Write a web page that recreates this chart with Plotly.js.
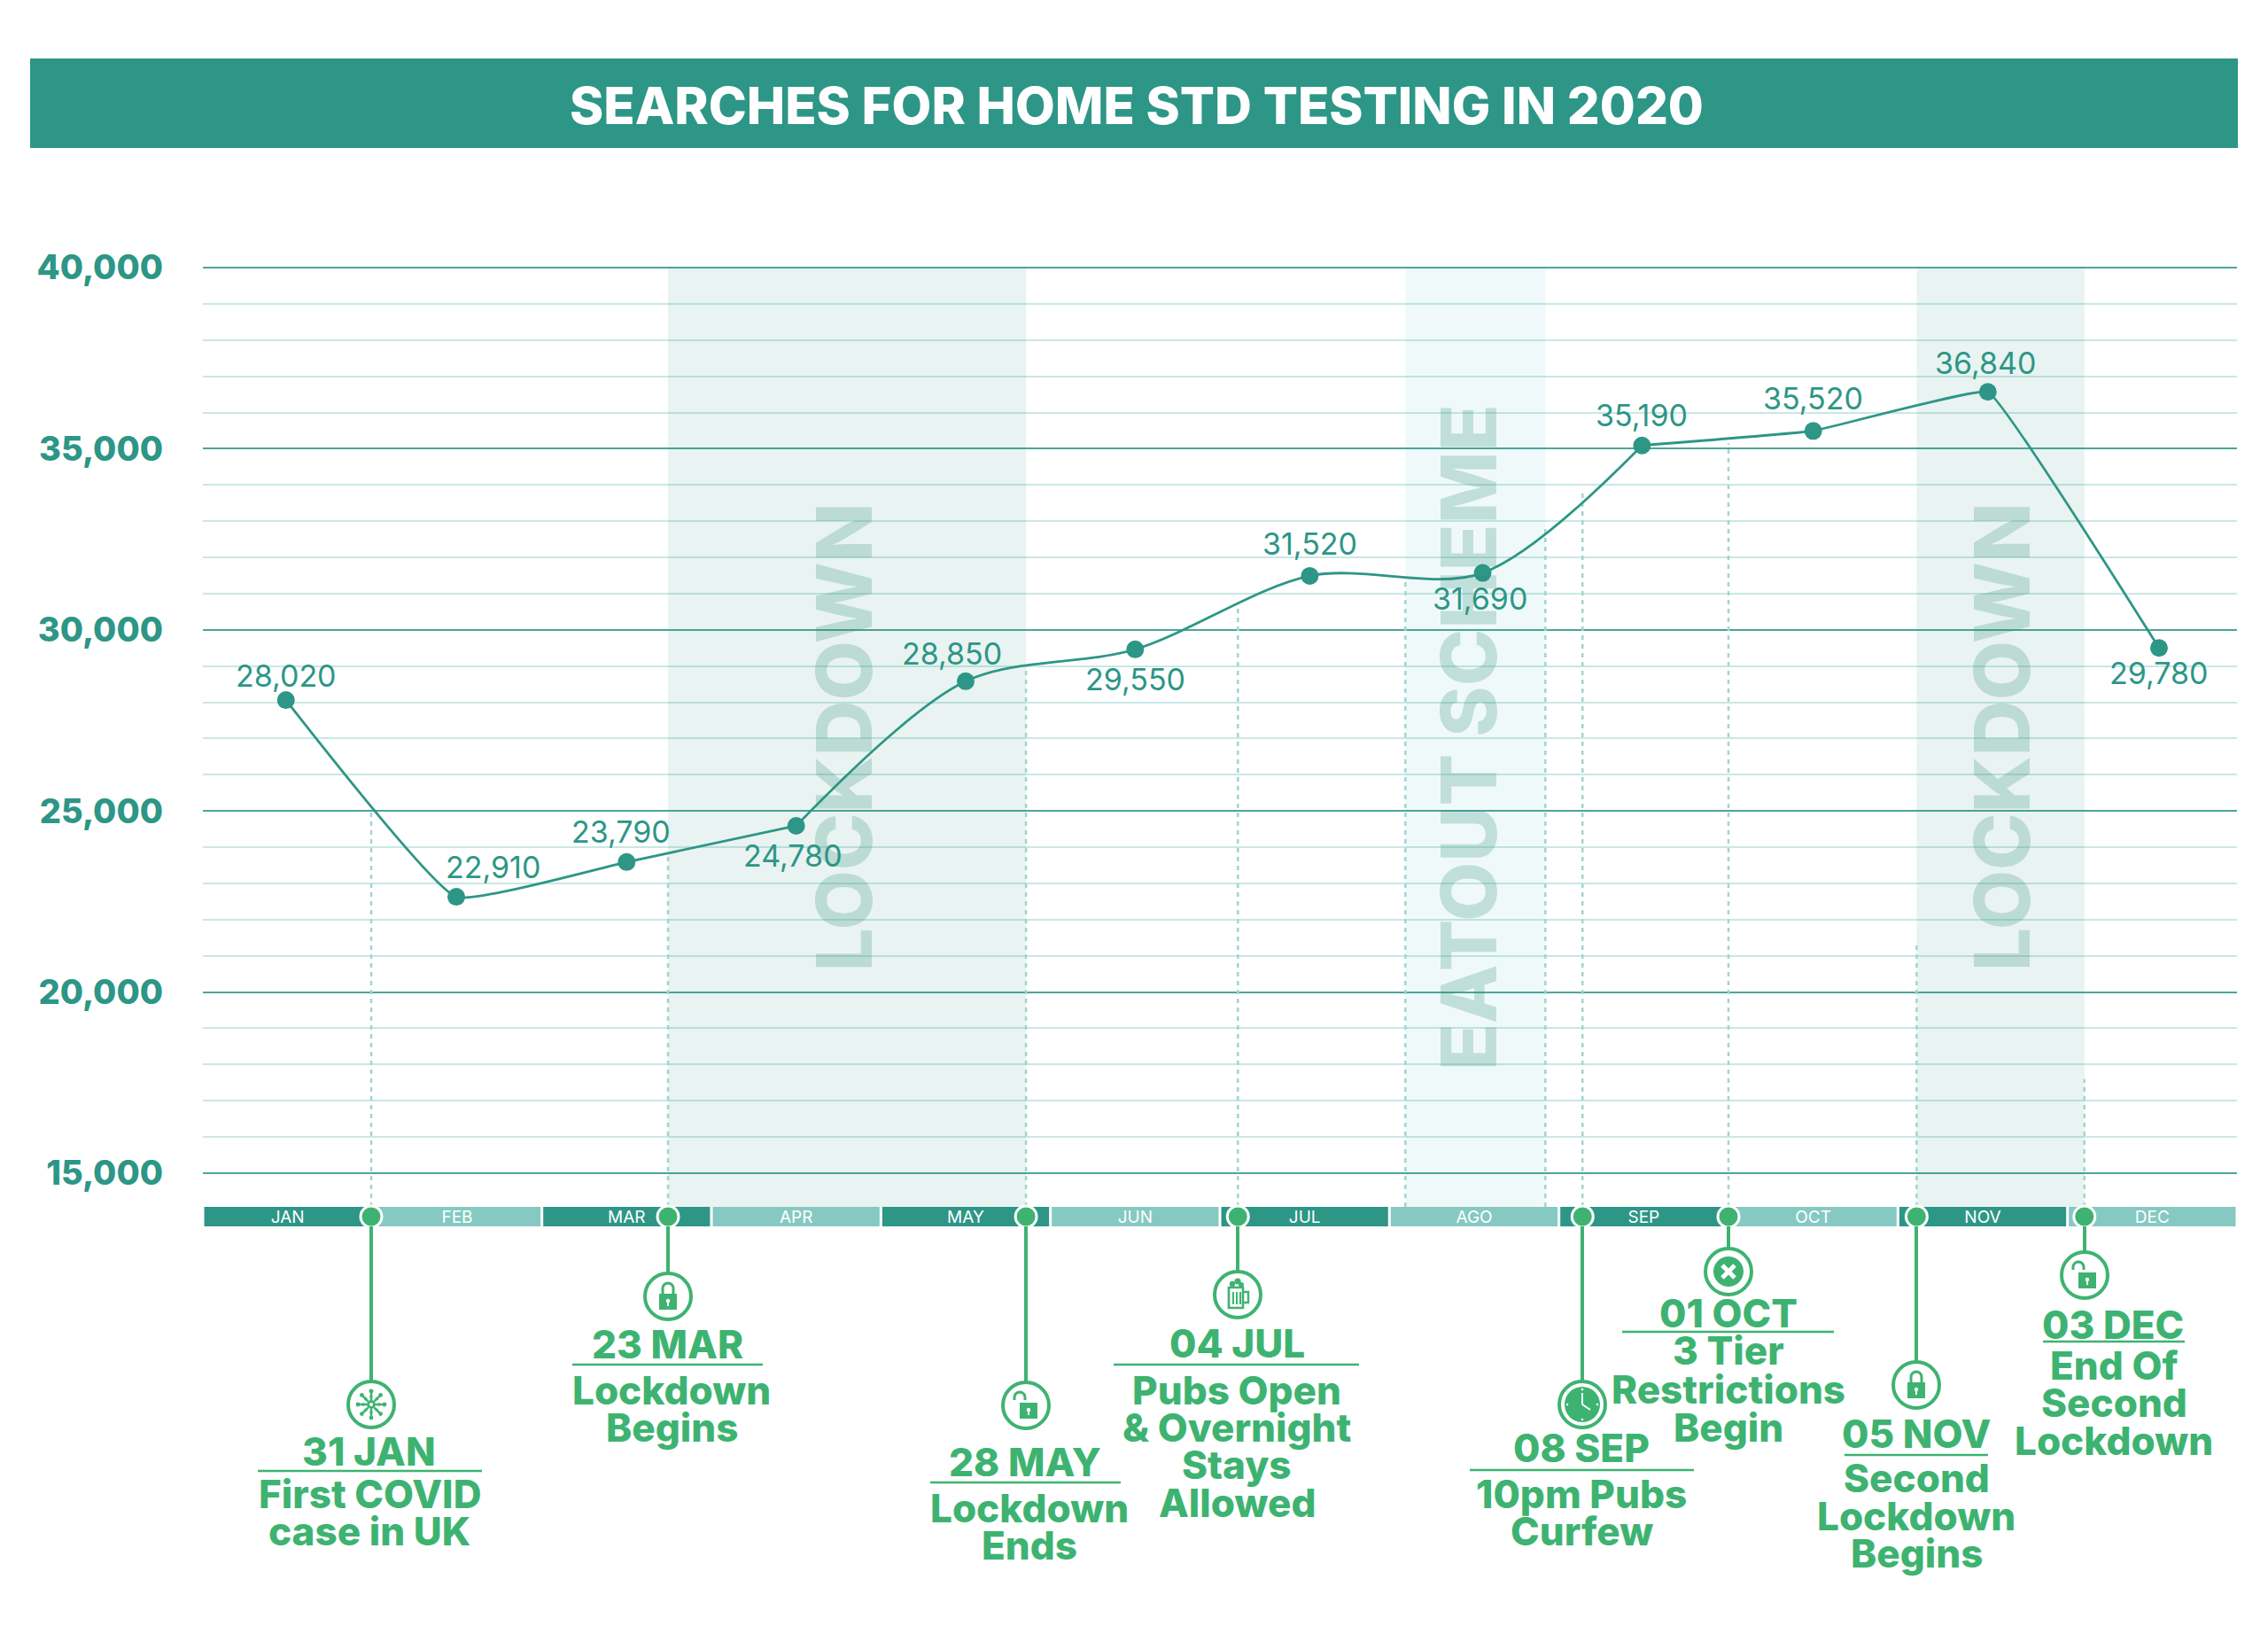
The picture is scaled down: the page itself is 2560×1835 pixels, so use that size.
<!DOCTYPE html>
<html><head><meta charset="utf-8">
<script src="https://cdn.plot.ly/plotly-3.0.1.min.js"></script>
<style>html,body{margin:0;padding:0;background:#fff}</style></head>
<body><div id="chart" style="width:2560px;height:1835px"></div>
<script>
// ---- data ----
const months = ['JAN','FEB','MAR','APR','MAY','JUN','JUL','AGO','SEP','OCT','NOV','DEC'];
const monthPos = [-0.01,0.995,2,3,4,5,6.03,7.05,7.99,9,10.03,11.04];
const plottedValues = [28060,22630,23590,24590,28580,29460,31490,31570,35090,35490,36570,29500];
const valueLabels = ['28,020','22,910','23,790','24,780','28,850','29,550','31,520','31,690','35,190','35,520','36,840','29,780'];
const eventPos = [0.493,2.244,4.356,5.606,7.639,8.50,9.61,10.60];
const eventDates = ['31 JAN','23 MAR','28 MAY','04 JUL','08 SEP','01 OCT','05 NOV','03 DEC'];
const eventLines = [['First COVID','case in UK'],['Lockdown','Begins'],['Lockdown','Ends'],
  ['Pubs Open','& Overnight','Stays','Allowed'],['10pm Pubs','Curfew'],['3 Tier','Restrictions','Begin'],
  ['Second','Lockdown','Begins'],['End Of','Second','Lockdown']];
const eventGuideTop = [25000,23800,29000,30600,33760,35150,21400,17600];
const bands = [{from:2.244,to:4.356,label:'LOCKDOWN',labelAt:3.28,size:87,fill:'rgba(45,141,122,0.105)'},
               {from:6.594,to:7.42,label:'EATOUT SCHEME',labelAt:6.965,size:87,fill:'rgba(41,169,169,0.07)'},
               {from:9.61,to:10.60,label:'LOCKDOWN',labelAt:10.11,size:87,fill:'rgba(45,141,122,0.105)'}];
const bandEdgeTops = [[6.594,31320],[7.42,32800]];
const majorTicks = [15000,20000,25000,30000,35000,40000];
const minorTicks = [16000,17000,18000,19000,21000,22000,23000,24000,26000,27000,28000,29000,31000,32000,33000,34000,36000,37000,38000,39000];

// ---- layout constants (pixels) ----
const W=2560,H=1835,L=229,R=2525,T=300,B=1384;
const TEAL='#2d9686',LIGHT='#85c9c2',GREEN='#3eb371',DOT='#9fd6d0';
const FONT='Inter';
const px=x=>(x-L)/(R-L), py=y=>1-(y-T)/(B-T);
const barTopVal=14070, barBotVal=13532, barMidVal=13800, rangeTop=40049;
const labelOff=[[0,-28],[41,-34],[-6,-34],[-4,34],[-16,-31],[0,34],[0,-36],[-3,29],[0,-34],[0,-37],[-3,-33],[0,28]];
const evt=[
 {x:419,cy:1585,dy:1638,dx:416,ul:[291,544,1660],tx:417,by:[1686,1728],icon:'virus'},
 {x:754,cy:1463,dy:1517,dx:753,ul:[646,861,1540],tx:758,by:[1569,1611],icon:'lock'},
 {x:1158,cy:1586,dy:1650,dx:1157,ul:[1050,1265,1673],tx:1162,by:[1702,1744],icon:'open'},
 {x:1397,cy:1461,dy:1516,dx:1396,ul:[1257,1534,1540],tx:1396,by:[1569,1611,1653,1696],icon:'beer'},
 {x:1786,cy:1585,dy:1634,dx:1785,ul:[1659,1912,1659],tx:1785,by:[1686,1728],icon:'clock'},
 {x:1951,cy:1435,dy:1482,dx:1951,ul:[1831,2070,1503],tx:1951,by:[1524,1568,1611],icon:'x'},
 {x:2163,cy:1563,dy:1618,dx:2163,ul:[2082,2244,1642],tx:2163,by:[1668,1711,1753],icon:'lock'},
 {x:2353,cy:1439,dy:1495,dx:2385,ul:[2306,2466,1514],tx:2386,by:[1541,1583,1626],icon:'open'}];

// ---- helpers for pixel-drawn decoration ----
const P=(x,y)=>px(x).toFixed(5)+','+py(y).toFixed(5);
const poly=(pts,close=true)=>'M'+pts.map(p=>P(p[0],p[1])).join('L')+(close?'Z':'');
const arc=(cx,cy,r,a0,a1,n=24)=>{const o=[];for(let i=0;i<=n;i++){const a=(a0+(a1-a0)*i/n)*Math.PI/180;o.push([cx+r*Math.cos(a),cy+r*Math.sin(a)]);}return o;};
const shapes=[];
const pfill=(d,c=GREEN)=>shapes.push({type:'path',xref:'paper',yref:'paper',path:d,fillcolor:c,line:{width:0},layer:'above'});
const pline=(d,c=GREEN,w=3)=>shapes.push({type:'path',xref:'paper',yref:'paper',path:d,line:{color:c,width:w},layer:'above'});
const circ=(x,y,r,fill,lc,lw)=>shapes.push({type:'circle',xref:'paper',yref:'paper',x0:px(x-r),x1:px(x+r),y0:py(y+r),y1:py(y-r),fillcolor:fill,line:{color:lc,width:lw},layer:'above'});
const seg=(x0,y0,x1,y1,c=GREEN,w=3)=>shapes.push({type:'line',xref:'paper',yref:'paper',x0:px(x0),x1:px(x1),y0:py(y0),y1:py(y1),line:{color:c,width:w},layer:'above'});
function lock(x,y,open){
  const bx=open?x+3:x;
  pfill(poly([[bx-10,y-3],[bx+10,y-3],[bx+10,y+15],[bx-10,y+15]]));
  const sx=open?x-7:x;
  pline(poly([[sx-6,open?y-6:y-3],...arc(sx,y-9,6,180,360,12),[sx+6,open?y-6:y-3]],false),GREEN,3);
  circ(bx,y+5,2.2,'#fff','#fff',0);
  pfill(poly([[bx-1,y+5],[bx+1,y+5],[bx+1,y+11],[bx-1,y+11]]),'#fff');
}
const icons={
 lock:(x,y)=>lock(x,y,false),
 open:(x,y)=>lock(x,y,true),
 virus:(x,y)=>{for(let a=0;a<360;a+=45){const r=a*Math.PI/180,c=Math.cos(r),s=Math.sin(r);
    seg(x+5*c,y+5*s,x+15*c,y+15*s,GREEN,2.5);circ(x+15*c,y+15*s,2.4,GREEN,GREEN,0);circ(x+9*c,y+9*s,1.8,GREEN,GREEN,0);}
    circ(x,y,5,GREEN,GREEN,0);circ(x,y,2,'#fff','#fff',0);},
 beer:(x,y)=>{pline(poly([[x-10,y-8],[x+6,y-8],[x+6,y+15],[x-10,y+15]]),GREEN,2.6);
    seg(x-5,y-3,x-5,y+11,GREEN,2);seg(x-1,y-3,x-1,y+11,GREEN,2);seg(x+3,y-3,x+3,y+11,GREEN,2);
    pline(poly([[x+6,y-3],[x+12,y-3],[x+12,y+9],[x+6,y+9]],false),GREEN,2.4);
    circ(x-6,y-12,3.2,GREEN,GREEN,0);circ(x,y-15,3.6,GREEN,GREEN,0);circ(x+4,y-11,3,GREEN,GREEN,0);},
 clock:(x,y)=>{circ(x,y,20,GREEN,GREEN,0);seg(x,y,x,y-13,'#fff',2);seg(x,y,x+9,y+6,'#fff',2);
    for(const [a,b] of [[0,-17],[0,17],[-17,0],[17,0]])circ(x+a,y+b,1.3,'#fff','#fff',0);},
 x:(x,y)=>{circ(x,y,17,GREEN,GREEN,0);seg(x-7,y-7,x+7,y+7,'#fff',5);seg(x-7,y+7,x+7,y-7,'#fff',5);}
};

// title band
shapes.push({type:'rect',xref:'paper',yref:'paper',x0:px(34),x1:px(2526),y0:py(167),y1:py(66),fillcolor:TEAL,line:{width:0},layer:'below'});
// shaded bands
bands.forEach(b=>shapes.push({type:'rect',xref:'x',yref:'y',x0:b.from,x1:b.to,y0:barTopVal,y1:40000,fillcolor:b.fill,line:{width:0},layer:'between'}));
// dashed guides
const guide={color:DOT,width:2.5,dash:'5px,5px'};
eventPos.forEach((x,i)=>shapes.push({type:'line',xref:'x',yref:'y',x0:x,x1:x,y0:barTopVal,y1:eventGuideTop[i],line:guide,layer:'between'}));
bandEdgeTops.forEach(e=>shapes.push({type:'line',xref:'x',yref:'y',x0:e[0],x1:e[0],y0:barTopVal,y1:e[1],line:guide,layer:'between'}));
// event stems, rings, icons, underlines
evt.forEach(e=>{
  seg(e.x,1384,e.x,e.cy-26,GREEN,4);
  circ(e.x,e.cy,26,'#fff',GREEN,4);
  icons[e.icon](e.x,e.cy);
  seg(e.ul[0],e.ul[2],e.ul[1],e.ul[2],GREEN,2.5);
});

const annotations=[];
// data labels
valueLabels.forEach((t,i)=>annotations.push({x:monthPos[i],y:plottedValues[i],xref:'x',yref:'y',text:t,showarrow:false,
  xshift:labelOff[i][0],yshift:-labelOff[i][1],xanchor:'center',yanchor:'middle',font:{family:FONT,size:34,color:TEAL}}));
// band labels
bands.forEach(b=>annotations.push({x:b.labelAt,y:py(832),xref:'x',yref:'paper',text:b.label,showarrow:false,textangle:-90,
  xanchor:'center',yanchor:'middle',font:{family:FONT,size:b.size,weight:800,color:'rgba(45,141,122,0.24)'}}));
// event text
evt.forEach((e,i)=>{
  annotations.push({x:px(e.dx),y:py(e.dy),xref:'paper',yref:'paper',text:eventDates[i],showarrow:false,xanchor:'center',yanchor:'middle',font:{family:FONT,size:44,weight:800,color:GREEN}});
  eventLines[i].forEach((t,j)=>annotations.push({x:px(e.tx),y:py(e.by[j]),xref:'paper',yref:'paper',text:t,showarrow:false,xanchor:'center',yanchor:'middle',font:{family:FONT,size:44,weight:800,color:GREEN}}));
});

// line runs: the straighter and the curvier stretches of the same series
const run=(a,b,s)=>({type:'scatter',mode:'lines',x:monthPos.slice(a,b+1),y:plottedValues.slice(a,b+1),line:{color:TEAL,width:2.8,shape:'spline',smoothing:s},showlegend:false,cliponaxis:false,hoverinfo:'skip'});
const traces=[
 {type:'bar',x:months.map((m,i)=>i),y:months.map(()=>barTopVal-barBotVal),base:months.map(()=>barBotVal),width:0.984,
  marker:{color:months.map((m,i)=>i%2?LIGHT:TEAL),line:{width:0}},text:months,textposition:'inside',insidetextanchor:'middle',textangle:0,
  constraintext:'none',insidetextfont:{family:FONT,size:19,color:'#fff'},cliponaxis:false,hoverinfo:'skip',showlegend:false},
 run(0,3,0.35),run(3,8,0.9),run(8,11,0.2),
 {type:'scatter',mode:'markers',x:monthPos,y:plottedValues,marker:{color:TEAL,size:20},showlegend:false,cliponaxis:false},
 {type:'scatter',mode:'markers',x:eventPos,y:eventPos.map(()=>barMidVal),marker:{color:GREEN,size:24,line:{color:'#fff',width:3}},cliponaxis:false,showlegend:false,hoverinfo:'skip'}
];
const layout={
 width:W,height:H,paper_bgcolor:'#fff',plot_bgcolor:'#fff',showlegend:false,barmode:'overlay',
 margin:{l:L,r:W-R,t:T,b:H-B,pad:0,autoexpand:false},
 title:{text:'SEARCHES FOR HOME STD TESTING IN 2020',x:1283/W,xref:'container',xanchor:'center',y:1-120/H,yref:'container',yanchor:'middle',
   font:{family:FONT,size:58,weight:800,color:'#fff'}},
 xaxis:{range:[-0.5,11.5],visible:false,fixedrange:true},
 yaxis:{range:[barBotVal,rangeTop],tickmode:'array',tickvals:majorTicks,tickformat:',d',showline:false,zeroline:false,ticks:'',ticklabelstandoff:44,
   gridcolor:'#4ba698',gridwidth:2,tickfont:{family:FONT,size:38,weight:800,color:TEAL},
   minor:{tickmode:'array',tickvals:minorTicks,showgrid:true,gridcolor:'#c9e8e4',gridwidth:2}},
 shapes,annotations
};
Plotly.newPlot('chart',traces,layout,{staticPlot:true,displayModeBar:false});
</script></body></html>
